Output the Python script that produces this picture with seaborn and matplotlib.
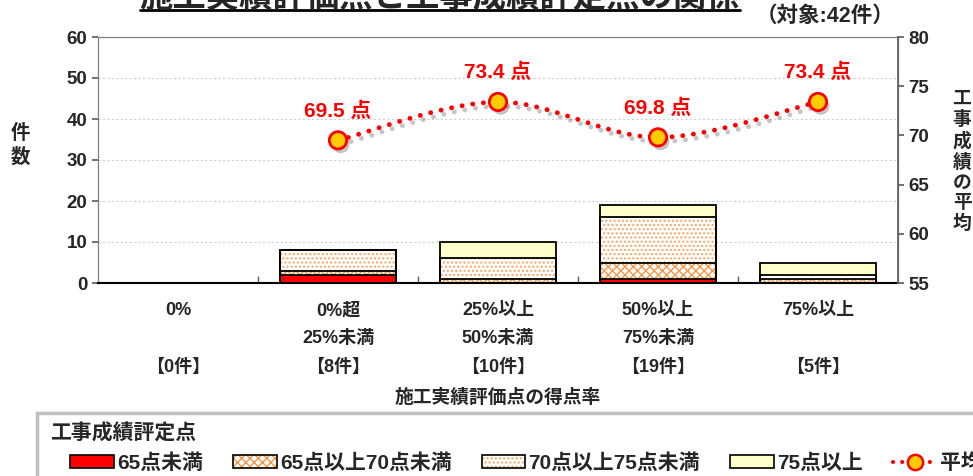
import numpy as np
import matplotlib
matplotlib.use("Agg")
import matplotlib.pyplot as plt
import matplotlib.patheffects as pe
from matplotlib.patches import Patch, Rectangle
from matplotlib.lines import Line2D
import seaborn as sns

# data
categories = ["0%", "0%超\n25%未満", "25%以上\n50%未満", "50%以上\n75%未満", "75%以上"]
count_labels = ["【0件】", "【8件】", "【10件】", "【19件】", "【5件】"]
under65 = [0, 2, 0, 1, 0]
from65to70 = [0, 1, 1, 4, 1]
from70to75 = [0, 5, 5, 11, 1]
over75 = [0, 0, 4, 3, 3]
avg_categories = categories[1:]
avg_score = [69.5, 73.4, 69.8, 73.4]
series_names = ["65点未満", "65点以上70点未満", "70点以上75点未満", "75点以上", "平均"]

RED = "#FF0000"
CROSS = "#F79646"
DOTS = "#F7A45E"
YELLOW = "#FFFFCC"
GOLD = "#FFCC00"
CROSS_HATCH = "xxxx"

sns.set_theme(style="white")
plt.rcParams["font.family"] = ["Liberation Sans", "Noto Sans CJK JP"]
plt.rcParams["font.weight"] = "bold"
plt.rcParams["hatch.linewidth"] = 1.0

fig = plt.figure(figsize=(9.73, 4.76), dpi=100)
ax = fig.add_axes([98 / 973, 1 - 283 / 476, 800 / 973, 246 / 476])

stack = np.cumsum(np.array([under65, from65to70, from70to75, over75]), axis=0)
layers = [(stack[3], YELLOW, None), (stack[2], "white", "...."),
          (stack[1], "white", CROSS_HATCH), (stack[0], RED, None)]

# fills (top of stack first, lower layers drawn over it)
for cum, fill, hatch in layers:
    n = len(ax.patches)
    sns.barplot(x=categories, y=cum, color=fill, width=0.72, saturation=1,
                errorbar=None, ax=ax)
    for p in ax.patches[n:]:
        p.set_linewidth(0)
        if hatch:
            p.set_hatch(hatch)
            p.set_edgecolor(CROSS if hatch == CROSS_HATCH else DOTS)
            p.set_linewidth(0)

# black outlines of each segment
for cum, fill, hatch in layers:
    n = len(ax.patches)
    sns.barplot(x=categories, y=cum, color="white", width=0.72, saturation=1,
                errorbar=None, ax=ax)
    for p in ax.patches[n:]:
        p.set_facecolor("none")
        p.set_edgecolor("black")
        p.set_linewidth(1.3)

ax.set_xlim(-0.5, 4.5)
ax.set_ylim(0, 60)
ax.set_yticks(range(0, 61, 10))
ax.yaxis.grid(True, color="#D0D0D0", linestyle=(0, (2, 2)), linewidth=0.8)
ax.set_axisbelow(True)

ticklabels = []
for c, b in zip(categories, count_labels):
    lines = c.split("\n")
    while len(lines) < 2:
        lines.append("")
    ticklabels.append("\n".join(lines + [b]))
ax.set_xticks(range(len(categories)))
ax.set_xticklabels(ticklabels, fontsize=13, fontweight="bold", linespacing=1.85, va="top")
ax.set_xticks(np.arange(0.5, 4.5, 1), minor=True)
ax.tick_params(axis="x", which="major", length=0, pad=14)
ax.tick_params(axis="x", which="minor", length=5, direction="in", color="#606060", bottom=True)
ax.tick_params(axis="y", labelsize=13.5, length=4, direction="out", left=True, color="#606060")
ax.set_xlabel("施工実績評価点の得点率", fontsize=13.5, fontweight="bold", labelpad=9)
ax.set_ylabel("")
for lab in ax.get_yticklabels():
    lab.set_fontweight("bold")
for side in ["top", "left", "right"]:
    ax.spines[side].set_color("#808080")
    ax.spines[side].set_linewidth(0.9)
ax.spines["bottom"].set_color("black")
ax.spines["bottom"].set_linewidth(1.5)

# average line on the right axis
ax2 = ax.twinx()
ax2.set_ylim(55, 80)
ax2.set_yticks(range(55, 81, 5))
ax2.tick_params(axis="y", labelsize=13.5, length=4, direction="out", right=True, color="#606060")
for lab in ax2.get_yticklabels():
    lab.set_fontweight("bold")
ax2.grid(False)
for side in ["top", "left", "bottom"]:
    ax2.spines[side].set_visible(False)
ax2.spines["right"].set_color("#606060")

xs = np.array([categories.index(c) for c in avg_categories], dtype=float)
ys = np.array(avg_score)


def catmull_rom(x, y, n=40):
    px = np.concatenate([[x[0]], x, [x[-1]]])
    py = np.concatenate([[y[0]], y, [y[-1]]])
    out_x, out_y = [], []
    for i in range(1, len(px) - 2):
        t = np.linspace(0, 1, n)
        for arr, res in ((px, out_x), (py, out_y)):
            p0, p1, p2, p3 = arr[i - 1], arr[i], arr[i + 1], arr[i + 2]
            res.extend(0.5 * ((2 * p1) + (-p0 + p2) * t
                              + (2 * p0 - 5 * p1 + 4 * p2 - p3) * t ** 2
                              + (-p0 + 3 * p1 - 3 * p2 + p3) * t ** 3))
    return np.array(out_x), np.array(out_y)


shadow = [pe.SimpleLineShadow(offset=(2, -3), shadow_color="gray", alpha=0.45), pe.Normal()]
cx, cy = catmull_rom(xs, ys)
ax2.plot(cx, cy, color=RED, linewidth=3.5, linestyle=(0, (0.01, 2.2)),
         dash_capstyle="round", path_effects=shadow, zorder=3)
mshadow = [pe.SimplePatchShadow(offset=(2, -3), shadow_rgbFace="gray", alpha=0.45), pe.Normal()]
ax2.plot(xs, ys, linestyle="none", marker="o", markersize=12.5, markerfacecolor=GOLD,
         markeredgecolor=RED, markeredgewidth=2, path_effects=mshadow, zorder=4)
for x, v in zip(xs, ys):
    ax2.annotate(f"{v:.1f} 点", (x, v), xytext=(0, 21), textcoords="offset points",
                 ha="center", va="center", color=RED, fontsize=15, fontweight="bold")

# axis titles and captions
fig.text(20 / 973, 1 - 145 / 476, "件\n数", ha="center", va="center",
         fontsize=14, fontweight="bold", linespacing=1.3)
fig.text(962 / 973, 1 - 162 / 476, "\n".join("工事成績の平均"), ha="center", va="center",
         fontsize=13.5, fontweight="bold", linespacing=1.22)
fig.text(895 / 973, 1 - 16 / 476, "（対象:42件）", ha="right", va="center",
         fontsize=15.5, fontweight="bold")
fig.text(440 / 973, 1 - 7 / 476, "施工実績評価点と工事成績評定点の関係", ha="center",
         va="baseline", fontsize=24, fontweight="bold")
fig.add_artist(Line2D([140 / 973, 740 / 973], [1 - 10 / 476, 1 - 10 / 476],
                      color="black", linewidth=2, transform=fig.transFigure))

# legend box
fig.add_artist(Rectangle((37 / 973, -0.05), 1.0, (476 - 413) / 476 + 0.05,
                         transform=fig.transFigure, facecolor="none",
                         edgecolor="#BFBFBF", linewidth=2.5))
fig.text(50 / 973, 1 - 433 / 476, "工事成績評定点", ha="left", va="center",
         fontsize=15, fontweight="bold")
handles = [
    Patch(facecolor=RED, edgecolor="black", linewidth=1.2),
    (Patch(facecolor="white", edgecolor=CROSS, hatch=CROSS_HATCH, linewidth=0),
     Patch(facecolor="none", edgecolor="black", linewidth=1.2)),
    (Patch(facecolor="white", edgecolor=DOTS, hatch="....", linewidth=0),
     Patch(facecolor="none", edgecolor="black", linewidth=1.2)),
    Patch(facecolor=YELLOW, edgecolor="black", linewidth=1.2),
    Line2D([0], [0], color=RED, linewidth=3, linestyle=(0, (0.01, 2.2)),
           dash_capstyle="round", marker="o", markersize=11, markerfacecolor=GOLD,
           markeredgecolor=RED, markeredgewidth=1.8),
]
fig.legend(handles, series_names, loc="center left",
           bbox_to_anchor=(70 / 973, 1 - 463 / 476), ncol=5, frameon=False,
           borderpad=0, borderaxespad=0, handlelength=2.1, handleheight=0.6,
           handletextpad=0.15, columnspacing=1.45,
           prop={"size": 15, "weight": "bold"})

fig.savefig("out.png", dpi=100)
